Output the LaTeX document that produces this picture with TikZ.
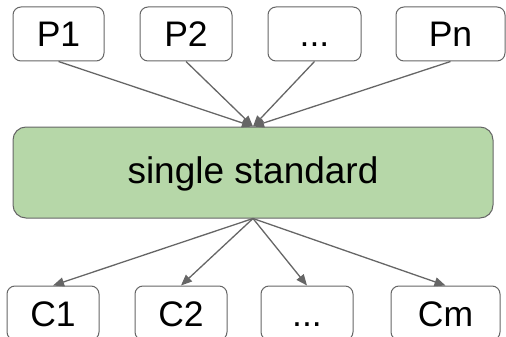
\documentclass[tikz,border=0pt]{standalone}
\usepackage{fontspec}
\setmainfont{Liberation Sans}
\usetikzlibrary{arrows.meta}
\definecolor{edgegray}{HTML}{666666}
\definecolor{stdgreen}{HTML}{B6D7A8}
\tikzset{
  party/.style={draw=edgegray, line width=1pt, fill=white, rounded corners=8pt,
    minimum height=54pt, inner sep=0pt, font=\fontsize{35.5}{42}\selectfont,
    text height=26pt, text depth=0pt},
  hub/.style={draw=edgegray, line width=1pt, fill=stdgreen, rounded corners=13pt,
    minimum width=480pt, minimum height=91pt, inner sep=0pt,
    font=\fontsize{37}{44}\selectfont, text height=28pt, text depth=6pt},
  flow/.style={draw=edgegray, line width=1.3pt,
    -{Triangle[length=11pt,width=9pt]}}
}
\begin{document}
\begin{tikzpicture}[x=1pt,y=-1pt]
  \useasboundingbox (0,0) rectangle (506,337);
  \clip (0,0) rectangle (506,337);
  % producers
  \node[party, minimum width=91pt]  (p1) at (58.5,34)  {P1};
  \node[party, minimum width=92pt]  (p2) at (186,34)   {P2};
  \node[party, minimum width=93pt]  (p3) at (314.5,34) {...};
  \node[party, minimum width=109pt] (pn) at (450.5,34) {Pn};
  % shared standard
  \node[hub] (std) at (253,172.5) {single standard};
  % consumers
  \node[party, minimum width=92pt]  (c1) at (53,313)    {C1};
  \node[party, minimum width=92pt]  (c2) at (181,313)   {C2};
  \node[party, minimum width=92pt]  (c3) at (307,313)   {...};
  \node[party, minimum width=109pt] (cm) at (445.5,313) {Cm};
  % connectors
  \foreach \n in {p1,p2,p3,pn} \draw[flow] (\n.south) -- (std.north);
  \foreach \n in {c1,c2,c3,cm} \draw[flow] (std.south) -- (\n.north);
\end{tikzpicture}
\end{document}
